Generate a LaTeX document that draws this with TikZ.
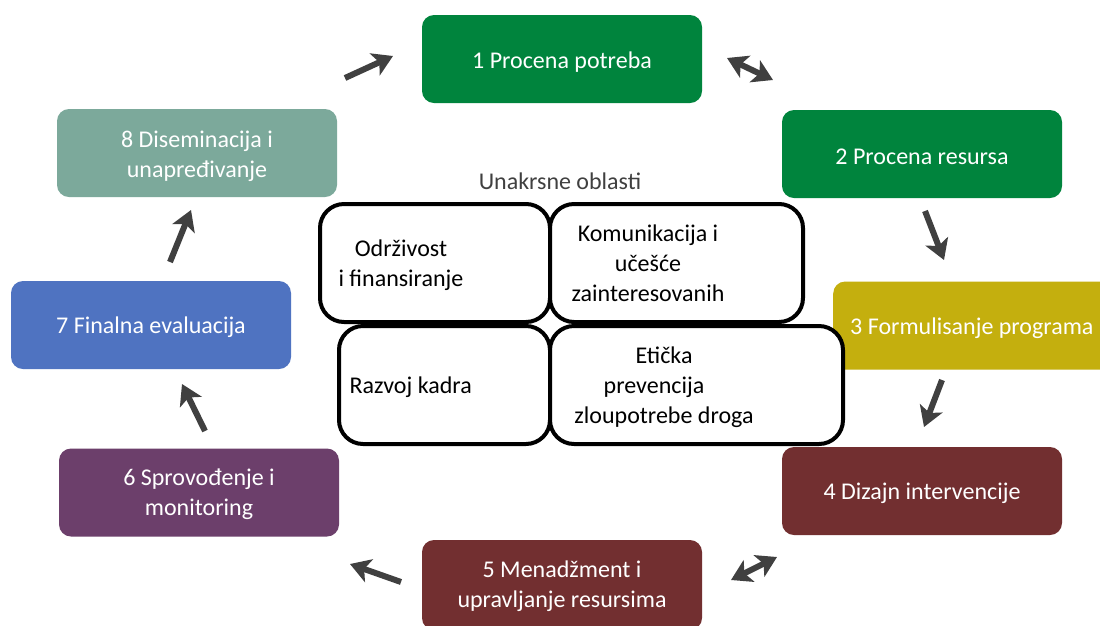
\documentclass[tikz,border=0pt]{standalone}
\usepackage{fontspec}
\setmainfont{Carlito}
\usetikzlibrary{arrows.meta}
\definecolor{cgreen}{RGB}{0,132,61}
\definecolor{cyellow}{RGB}{196,175,14}
\definecolor{cbrown}{RGB}{114,47,48}
\definecolor{cpurple}{RGB}{108,63,107}
\definecolor{cblue}{RGB}{79,115,193}
\definecolor{cteal}{RGB}{124,169,155}
\definecolor{carrow}{RGB}{64,64,64}
\tikzset{
  cbox/.style={rounded corners=12pt, minimum width=280pt, minimum height=88pt, inner sep=0pt},
  ctext/.style={text=white, font=\fontsize{24}{30}\selectfont, align=center, inner sep=0pt},
  wbox/.style={draw=black, line width=4pt, rounded corners=24pt, fill=white},
  wtext/.style={font=\fontsize{24}{30}\selectfont, align=center, text=black},
  arr/.style={draw=carrow, line width=6pt, -{Stealth[length=20pt,width=24pt,inset=5pt]}},
  darr/.style={draw=carrow, line width=6pt, {Stealth[length=20pt,width=24pt,inset=5pt]}-{Stealth[length=20pt,width=24pt,inset=5pt]}}
}
\begin{document}
\begin{tikzpicture}[x=1pt,y=-1pt]
\clip (0,0) rectangle (1100,625);
\fill[white] (0,0) rectangle (1100,625);
% cycle boxes
\node[cbox, fill=cgreen] (b1) at (562,59) {};
\node[cbox, fill=cgreen] (b2) at (922,154) {};
\node[cbox, fill=cyellow, minimum width=290pt, anchor=west] (b3) at (833,325.5) {};
\node[cbox, fill=cbrown] (b4) at (922,491) {};
\node[cbox, fill=cbrown, minimum height=90pt] (b5) at (562,585) {};
\node[cbox, fill=cpurple] (b6) at (199,492.5) {};
\node[cbox, fill=cblue] (b7) at (151,325) {};
\node[cbox, fill=cteal] (b8) at (197,153) {};
\node[ctext] (t1) at ([yshift=-3pt]b1.center) {1 Procena potreba};
\node[ctext] (t2) at ([yshift=-3pt]b2.center) {2 Procena resursa};
\node[ctext, anchor=west] (t3) at (850,328) {3 Formulisanje programa};
\node[ctext] (t4) at ([yshift=-2pt]b4.center) {4 Dizajn intervencije};
\node[ctext] (t5) at ([yshift=-1pt]b5.center) {5 Menadžment i\\upravljanje resursima};
\node[ctext] (t6) at ([yshift=-2pt]b6.center) {6 Sprovođenje i\\monitoring};
\node[ctext] (t7) at ([yshift=-2pt]b7.center) {7 Finalna evaluacija};
\node[ctext] (t8) at ([yshift=-3pt]b8.center) {8 Diseminacija i\\unapređivanje};
% title
\node[font=\fontsize{24}{28}\selectfont, text=carrow] (title) at (560,181) {Unakrsne oblasti};
% central boxes
\draw[wbox] (320,204) rectangle (550,322);
\draw[wbox] (550,204) rectangle (803,322);
\draw[wbox] (339,326) rectangle (550,444);
\draw[wbox] (550,326) rectangle (843,444);
\node[wtext] (c1) at (401,265) {Održivost\\i finansiranje};
\node[wtext] (c2) at (648,263) {Komunikacija i\\učešće\\zainteresovanih};
\node[wtext, anchor=west] (c3) at (346,387) {Razvoj kadra};
\node[wtext] (c4) at (664,387) {Etička\\\hspace*{-20pt}prevencija\\zloupotrebe droga};
% arrow endpoints
\coordinate (a1s) at (345,78); \coordinate (a1e) at (393,56);
\coordinate (a2s) at (727,58); \coordinate (a2e) at (773,80);
\coordinate (a3s) at (925,211); \coordinate (a3e) at (944,260);
\coordinate (a4s) at (942,380); \coordinate (a4e) at (924,427);
\coordinate (a5s) at (731,580); \coordinate (a5e) at (777,557);
\coordinate (a6s) at (401,582); \coordinate (a6e) at (350,564);
\coordinate (a7s) at (205,431); \coordinate (a7e) at (182,384);
\coordinate (a8s) at (170,262); \coordinate (a8e) at (191,210);
\draw[arr] (a1s) -- (a1e);
\draw[darr] (a2s) -- (a2e);
\draw[arr] (a3s) -- (a3e);
\draw[arr] (a4s) -- (a4e);
\draw[darr] (a5s) -- (a5e);
\draw[arr] (a6s) -- (a6e);
\draw[arr] (a7s) -- (a7e);
\draw[arr] (a8s) -- (a8e);
\end{tikzpicture}
\end{document}
